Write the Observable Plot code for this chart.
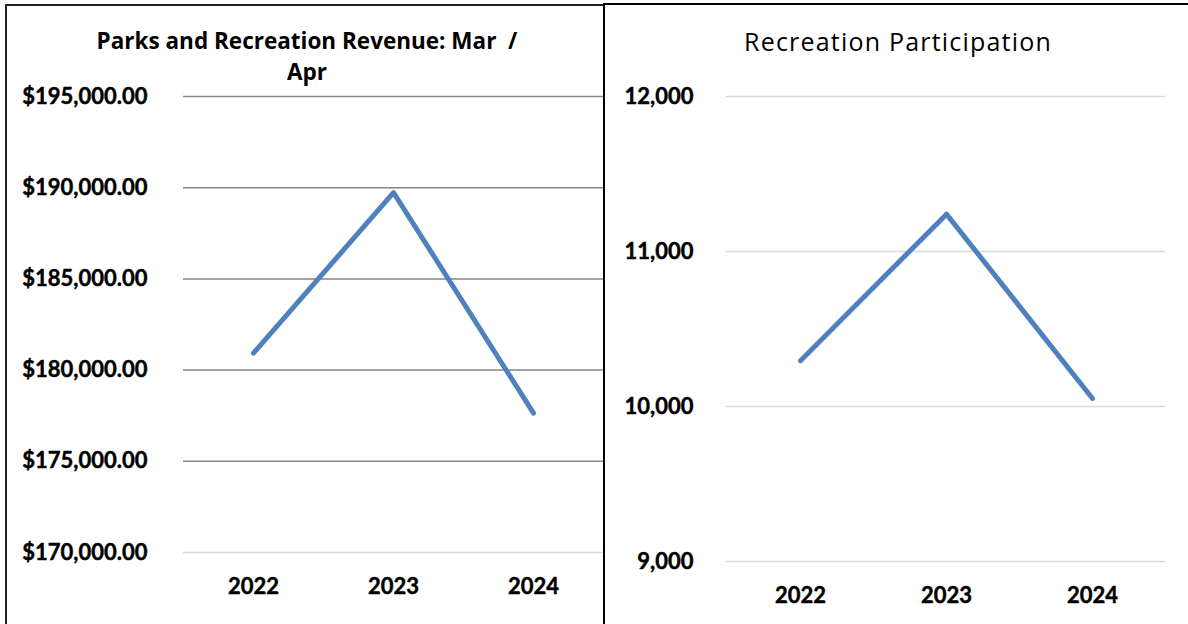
<!DOCTYPE html>
<html>
<head>
<meta charset="utf-8">
<script src="https://cdn.jsdelivr.net/npm/d3@7"></script>
<script src="https://cdn.jsdelivr.net/npm/@observablehq/plot@0.6"></script>
<style>
  html, body { margin: 0; padding: 0; background: #fff; }
  #root { position: relative; width: 1188px; height: 624px; overflow: hidden; background: #fff; font-family: Lato, sans-serif; }
  .panel { position: absolute; top: 0; }
  .box { position: absolute; pointer-events: none; box-sizing: border-box; }
  .title { position: absolute; white-space: pre; text-align: center; color: #000; }
  #root svg text { stroke: #000; stroke-width: 0.45px; }
</style>
</head>
<body>
<div id="root">
  <div id="left" class="panel" style="left:0px;"></div>
  <div id="right" class="panel" style="left:603px;"></div>
  <div class="title" style="left:57px; width:500px; top:25px; font-family:'Open Sans'; font-size:22.5px; font-weight:bold; line-height:31px;">Parks and Recreation Revenue: Mar  /
Apr</div>
  <div class="title" style="left:648px; width:500px; top:26px; font-family:'Open Sans'; font-size:25px; font-weight:normal; letter-spacing:1.2px; line-height:30px;">Recreation Participation</div>
  <div class="box" style="left:5px; top:4px; width:600px; height:660px; border:2px solid #222;"></div>
  <div class="box" style="left:603px; top:3px; width:620px; height:660px; border:2px solid #000;"></div>
</div>
<script>
const years = ["2022", "2023", "2024"];
const revenue = [180930, 189730, 177645];
const participation = [10295, 11241, 10052];
const revenueTicks = [170000, 175000, 180000, 185000, 190000, 195000];
const participationTicks = [9000, 10000, 11000, 12000];

const revenueData = years.map((y, i) => ({year: y, value: revenue[i]}));
const participationData = years.map((y, i) => ({year: y, value: participation[i]}));

const textStyle = {fontFamily: "Lato", fontSize: 22, fontWeight: "bold", fill: "#000"};

const left = Plot.plot({
  width: 603, height: 624,
  marginLeft: 183, marginRight: 0, marginTop: 96, marginBottom: 72,
  style: {fontFamily: "Lato", color: "#000", background: "transparent"},
  x: {type: "point", domain: years, padding: 0.5, axis: null},
  y: {domain: [170000, 195000], axis: null},
  marks: [
    Plot.ruleY(revenueTicks.filter(d => d > 170000), {stroke: "#868686", strokeWidth: 1.5}),
    Plot.ruleY([170000], {stroke: "#d9d9d9", strokeWidth: 1.5}),
    Plot.axisY(revenueTicks, {tickSize: 0, tickPadding: 36, label: null, tickFormat: d => "$" + d3.format(",.2f")(d), ...textStyle}),
    Plot.axisX(years, {tickSize: 0, tickPadding: 26, label: null, ...textStyle}),
    Plot.line(revenueData, {x: "year", y: "value", stroke: "#4f81bd", strokeWidth: 5, strokeLinecap: "round", strokeLinejoin: "round"})
  ]
});
document.getElementById("left").appendChild(left);

const right = Plot.plot({
  width: 585, height: 624,
  marginLeft: 123, marginRight: 23, marginTop: 96, marginBottom: 63,
  style: {fontFamily: "Lato", color: "#000", background: "transparent"},
  x: {type: "point", domain: years, padding: 0.5, axis: null},
  y: {domain: [9000, 12000], axis: null},
  marks: [
    Plot.ruleY(participationTicks, {stroke: "#d9d9d9", strokeWidth: 1.5}),
    Plot.axisY(participationTicks, {tickSize: 0, tickPadding: 33, label: null, tickFormat: d3.format(","), ...textStyle}),
    Plot.axisX(years, {tickSize: 0, tickPadding: 26, label: null, ...textStyle}),
    Plot.line(participationData, {x: "year", y: "value", stroke: "#4f81bd", strokeWidth: 5, strokeLinecap: "round", strokeLinejoin: "round"})
  ]
});
document.getElementById("right").appendChild(right);
</script>
</body>
</html>
